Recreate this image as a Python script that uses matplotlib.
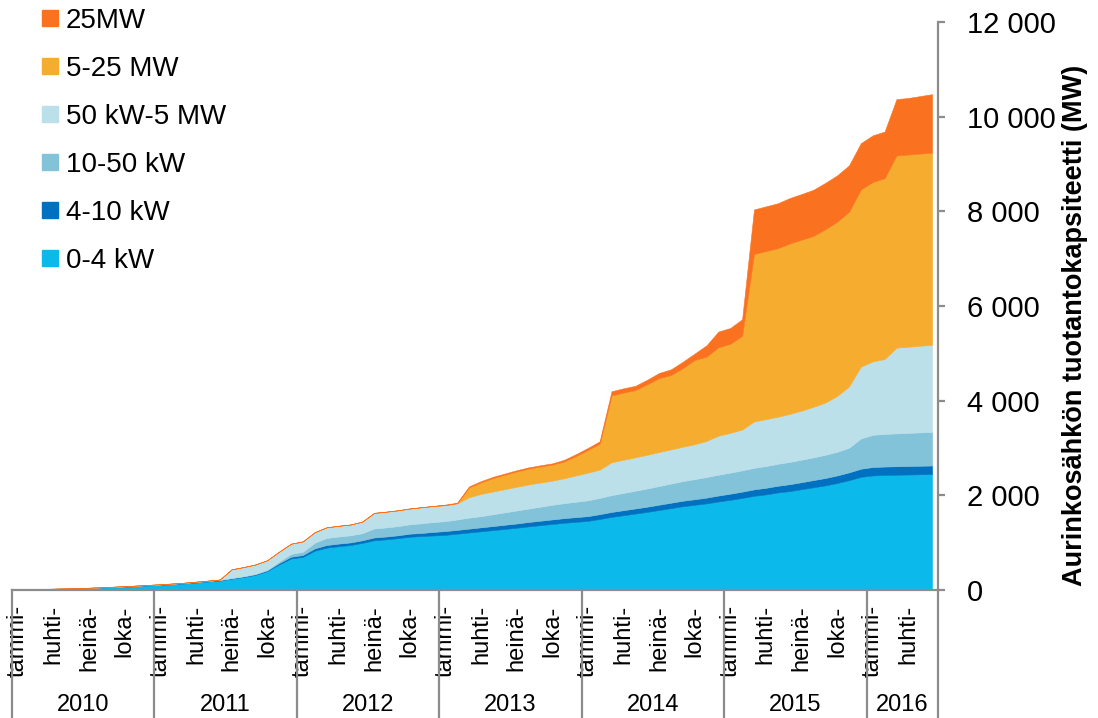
import numpy as np
import matplotlib
matplotlib.use("Agg")
import matplotlib.pyplot as plt
from matplotlib.lines import Line2D
from matplotlib.ticker import FuncFormatter

plt.rcParams['font.family'] = ['Liberation Sans', 'DejaVu Sans']

# monthly capacity by size class, MW, Jan 2010 .. Jun 2016
years = ['2010', '2011', '2012', '2013', '2014', '2015', '2016']
quarter_labels = ['tammi-', 'huhti-', 'heinä-', 'loka-']

kw_0_4 = [
    18, 20, 22, 25, 30, 36, 43, 52, 62, 72, 85, 98,
    110, 125, 140, 160, 180, 200, 240, 275, 320, 400, 540, 665,
    700, 830, 895, 925, 950, 995, 1050, 1070, 1095, 1125, 1140, 1152,
    1165, 1190, 1215, 1240, 1265, 1290, 1315, 1345, 1370, 1395, 1420, 1440,
    1460, 1500, 1545, 1580, 1615, 1650, 1690, 1730, 1770, 1800, 1830, 1870,
    1905, 1945, 1990, 2020, 2060, 2090, 2130, 2170, 2210, 2260, 2320, 2390,
    2420, 2430, 2435, 2440, 2445, 2450]
kw_4_10 = [
    1, 1, 1, 1, 2, 2, 2, 3, 3, 3, 4, 4,
    5, 5, 6, 7, 8, 9, 9, 10, 12, 15, 30, 38,
    40, 50, 55, 55, 55, 55, 60, 60, 60, 65, 65, 75,
    80, 80, 82, 84, 86, 88, 90, 92, 94, 96, 98, 100,
    100, 102, 104, 106, 108, 110, 112, 114, 116, 118, 122, 126,
    130, 133, 136, 139, 142, 145, 148, 152, 156, 160, 165, 172,
    178, 178, 179, 180, 180, 180]
kw_10_50 = [
    1, 1, 1, 1, 1, 2, 2, 2, 3, 3, 3, 4,
    4, 5, 5, 6, 7, 8, 8, 9, 12, 15, 30, 60,
    68, 120, 150, 150, 150, 150, 190, 192, 195, 198, 205, 208,
    210, 220, 233, 236, 249, 262, 275, 283, 296, 309, 317, 325,
    335, 345, 355, 365, 375, 385, 395, 405, 415, 425, 435, 440,
    445, 450, 455, 460, 465, 470, 475, 480, 490, 500, 520, 640,
    680, 690, 695, 700, 705, 710]
kw_50_mw_5 = [
    0, 0, 0, 0, 0, 0, 1, 1, 1, 2, 2, 2,
    2, 2, 3, 3, 3, 4, 180, 190, 195, 200, 210, 215,
    218, 220, 222, 224, 226, 242, 326, 329, 330, 330, 335, 337,
    335, 340, 430, 470, 480, 490, 500, 510, 510, 510, 525, 555,
    585, 595, 695, 700, 705, 712, 718, 722, 726, 737, 763, 824,
    840, 862, 979, 991, 993, 1015, 1037, 1068, 1104, 1180, 1295, 1518,
    1552, 1582, 1811, 1820, 1830, 1840]
mw_5_25 = [
    0, 0, 0, 0, 0, 0, 0, 0, 0, 0, 0, 0,
    0, 0, 0, 0, 0, 0, 0, 0, 0, 0, 0, 0,
    2, 2, 3, 3, 3, 3, 4, 4, 4, 5, 5, 5,
    5, 5, 210, 245, 285, 305, 325, 335, 340, 340, 355, 410,
    480, 550, 1410, 1420, 1420, 1490, 1560, 1570, 1660, 1780, 1780, 1870,
    1880, 1980, 3540, 3550, 3560, 3600, 3610, 3610, 3660, 3680, 3690, 3740,
    3790, 3820, 4060, 4060, 4060, 4060]
mw_25 = [
    0, 0, 0, 0, 0, 0, 0, 0, 0, 0, 0, 0,
    0, 0, 0, 0, 0, 0, 0, 0, 0, 0, 0, 0,
    0, 0, 0, 0, 0, 0, 0, 0, 0, 0, 0, 0,
    10, 10, 20, 25, 25, 25, 25, 25, 25, 25, 35, 40,
    40, 50, 90, 90, 90, 95, 110, 120, 135, 135, 240, 330,
    335, 350, 940, 945, 950, 960, 965, 975, 980, 980, 980, 980,
    985, 985, 1190, 1195, 1215, 1235]

series = [kw_0_4, kw_4_10, kw_10_50, kw_50_mw_5, mw_5_25, mw_25]
names = ['0-4 kW', '4-10 kW', '10-50 kW', '50 kW-5 MW', '5-25 MW', '25MW']
colors = ['#0cb9eb', '#0070c0', '#82c3da', '#bce0ea', '#f6ac2e', '#fa7220']

n = len(kw_0_4)
x = np.arange(n) + 0.5

fig = plt.figure(figsize=(10.98, 7.18), dpi=100)
ax = fig.add_axes([12 / 1098, 1 - 590 / 718, 926 / 1098, 568 / 718])

polys = ax.stackplot(x, *series, colors=colors, linewidth=0.4)
for p, c in zip(polys, colors):
    p.set_edgecolor(c)

grey = '#8c8c8c'
ax.set_xlim(0, n)
ax.set_ylim(0, 12000)
for side in ['top', 'left']:
    ax.spines[side].set_visible(False)
for side in ['bottom', 'right']:
    ax.spines[side].set_color(grey)
    ax.spines[side].set_linewidth(1.6)

# value axis on the right
ax.yaxis.tick_right()
ax.set_yticks(np.arange(0, 12001, 2000))
ax.yaxis.set_major_formatter(FuncFormatter(lambda v, p: f"{int(v):,}".replace(",", " ")))
ax.tick_params(axis='y', direction='out', length=5, width=1.6, color=grey,
               labelsize=21, pad=16)
ax.set_ylabel('Aurinkosähkön tuotantokapsiteetti (MW)', fontsize=19.5,
              fontweight='bold')
ax.yaxis.set_label_position('right')
ax.yaxis.set_label_coords((1075 - 12) / 926, (590 - 325) / 568)
ax.yaxis.label.set_verticalalignment('center')
ax.yaxis.label.set_horizontalalignment('center')

# month labels every quarter, year labels below
ticks = np.arange(0, n, 3) + 0.5
ax.set_xticks(ticks)
ax.set_xticklabels([quarter_labels[(i // 3) % 4] for i in range(0, n, 3)],
                   rotation=90, va='top', ha='center')
ax.tick_params(axis='x', length=0, labelsize=17, pad=11)

trans = ax.get_xaxis_transform()
bounds = list(range(0, n, 12)) + [n]
for b in bounds:
    ax.plot([b, b], [0, -0.4], transform=trans, color=grey, lw=1.6,
            clip_on=False)
for k, yr in enumerate(years):
    lo = bounds[k]
    hi = bounds[k + 1]
    ax.text((lo + hi) / 2, -0.203, yr, transform=trans, ha='center',
            va='center', fontsize=17)

handles = [Line2D([], [], marker='s', linestyle='none', markersize=11,
                  color=c) for c in colors]
leg = fig.legend(handles[::-1], names[::-1], loc='upper left',
                 bbox_to_anchor=(42 / 1098, 1 - 8 / 718), frameon=False,
                 fontsize=20, handlelength=0.6, handletextpad=0.25,
                 labelspacing=0.79, borderpad=0, borderaxespad=0)

fig.savefig('out.png', dpi=100)
